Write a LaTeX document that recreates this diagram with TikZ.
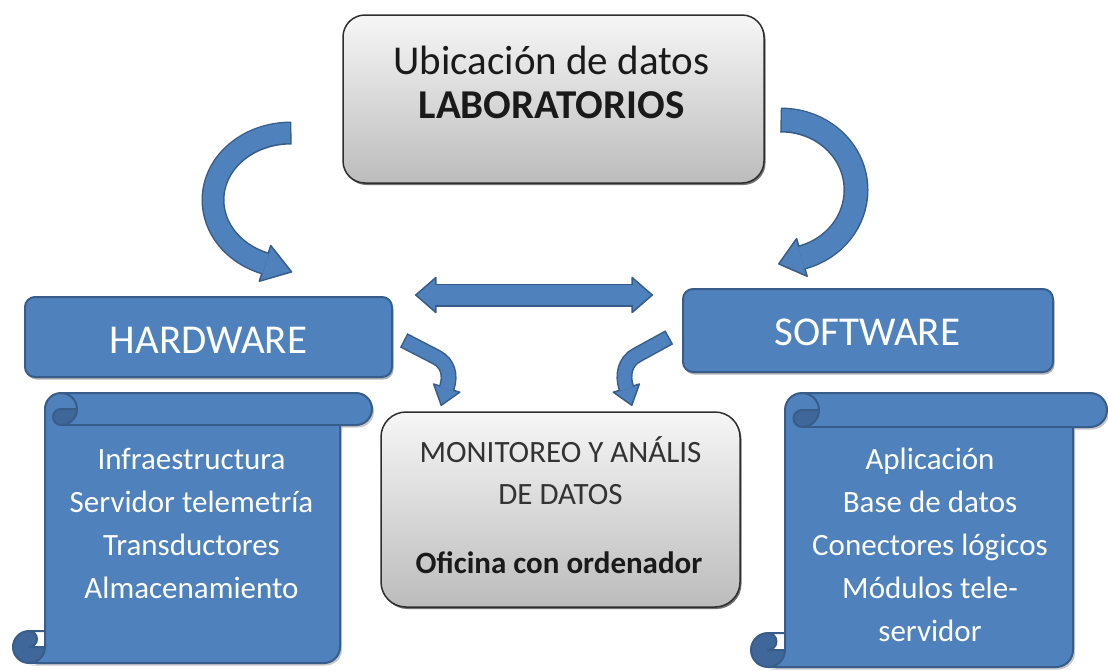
\documentclass[tikz,border=0pt]{standalone}
\usepackage{fontspec}
\setmainfont{Carlito}
\usetikzlibrary{arrows.meta,shadows}
\definecolor{bfill}{HTML}{4F81BD}
\definecolor{bline}{HTML}{385D8A}
\definecolor{bdark}{HTML}{3F6799}
\definecolor{gtop}{HTML}{F6F6F6}
\definecolor{gbot}{HTML}{BCBCBC}
\definecolor{gline}{HTML}{2E2E2E}
\definecolor{txt}{HTML}{1A1A1A}

\newcommand{\scrollpaper}[5]{%
  \pgfmathsetmacro\SL{#1}\pgfmathsetmacro\ST{#2}\pgfmathsetmacro\SR{#3}\pgfmathsetmacro\SB{#4}%
  \pgfmathsetmacro\SC{#5}\pgfmathsetmacro\SCh{#5/2}\pgfmathsetmacro\SCq{#5/4}%
  \pgfmathsetmacro\Xa{\SL+\SCh}\pgfmathsetmacro\Xb{\SL+\SC}%
  \pgfmathsetmacro\Xc{\SL+1.5*\SC}\pgfmathsetmacro\Xd{\SL+2*\SC}%
  \pgfmathsetmacro\Xf{\SR-\SC}\pgfmathsetmacro\Xg{\SR-\SCh}\pgfmathsetmacro\Xe{\Xf-\SCh}%
  \pgfmathsetmacro\Ya{\ST+\SCh}\pgfmathsetmacro\Yb{\ST+\SC}%
  \pgfmathsetmacro\Yc{\SB-\SC}\pgfmathsetmacro\Yd{\SB-\SCh}%
  \fill[black!22, shift={(2,2.5)}] (\Xa,\SB) arc[start angle=90,end angle=0,radius=\SCh] -- (\Xb,\Ya)
     arc[start angle=180,end angle=270,radius=\SCh] -- (\Xg,\ST)
     arc[start angle=270,end angle=450,radius=\SCh] -- (\Xf,\Yb) -- (\Xf,\Yd)
     arc[start angle=0,end angle=90,radius=\SCh] -- cycle;
  \fill[bfill] (\Xa,\SB) arc[start angle=90,end angle=0,radius=\SCh] -- (\Xb,\Ya)
     arc[start angle=180,end angle=270,radius=\SCh] -- (\Xg,\ST)
     arc[start angle=270,end angle=450,radius=\SCh] -- (\Xf,\Yb) -- (\Xf,\Yd)
     arc[start angle=0,end angle=90,radius=\SCh] -- cycle;
  \fill[bdark] (\Xd,\Ya) arc[start angle=0,end angle=90,radius=\SCh]
     arc[start angle=90,end angle=270,radius=\SCq] -- cycle;
  \fill[bdark] (\Xb,\Yd) arc[start angle=0,end angle=270,radius=\SCh]
     arc[start angle=270,end angle=450,radius=\SCq] -- cycle;
  \begin{scope}[draw=bline, line width=2pt, line join=round]
  \draw (\Xb,\Yc) -- (\Xb,\Ya) arc[start angle=180,end angle=270,radius=\SCh] -- (\Xg,\ST)
     arc[start angle=270,end angle=450,radius=\SCh] -- (\Xf,\Yb) -- (\Xf,\Yd)
     arc[start angle=0,end angle=90,radius=\SCh] -- (\Xa,\SB)
     arc[start angle=90,end angle=270,radius=\SCh] -- cycle;
  \draw (\Xc,\ST) arc[start angle=270,end angle=450,radius=\SCh]
     arc[start angle=90,end angle=270,radius=\SCq] -- (\Xd,\Ya);
  \draw (\Xf,\Yb) -- (\Xc,\Yb);
  \draw (\Xa,\Yc) arc[start angle=270,end angle=450,radius=\SCq] -- (\Xb,\Yd);
  \draw (\Xa,\SB) arc[start angle=90,end angle=0,radius=\SCh] -- (\Xb,\Yc);
  \end{scope}
}

\begin{document}
\begin{tikzpicture}[x=1pt,y=-1pt,
  bluebox/.style={draw=bline, line width=2pt, fill=bfill, rounded corners=10pt, inner sep=0pt,
     drop shadow={shadow xshift=1.5pt, shadow yshift=-2.5pt, fill=black!30, opacity=1}},
  graybox/.style={draw=gline, line width=1.5pt, top color=gtop, bottom color=gbot, rounded corners=22pt, inner sep=0pt,
     drop shadow={shadow xshift=1.5pt, shadow yshift=-2pt, fill=black!55, opacity=1}},
  headtxt/.style={text=txt, inner sep=0pt, anchor=base, font=\fontsize{41}{49}\selectfont},
  labtxt/.style={text=white, inner sep=0pt, anchor=base, font=\fontsize{41}{49}\selectfont},
  listtxt/.style={text=white, inner sep=0pt, anchor=base, font=\fontsize{31}{37}\selectfont},
  montxt/.style={text=txt, inner sep=0pt, anchor=base, font=\fontsize{31}{37}\selectfont},
]
\useasboundingbox (0,0) rectangle (1108,670);

% scrolls
\scrollpaper{13}{393}{372}{663}{32}
\scrollpaper{751}{393}{1107}{667}{34}

% boxes
\node[graybox, minimum width=421pt, minimum height=168pt] (topbox) at (553.5,99) {};
\node[bluebox, minimum width=367pt, minimum height=80pt] (hw) at (208.5,337) {};
\node[bluebox, minimum width=370pt, minimum height=83pt] (sw) at (868,330.5) {};
\node[graybox, rounded corners=25pt, minimum width=359pt, minimum height=195pt] (mon) at (560.5,509.5) {};

% big curved arrows
\coordinate (la0) at (290,133);
\coordinate (la1) at (292.3,272.1);
\draw[bfill, line width=20pt, shorten >=28pt,
  preaction={draw=bline, line width=23pt, shorten >=0pt, shorten <=-1.5pt,
    -{Triangle[length=30pt,width=40pt,line width=1.5pt,fill=bfill,round]}}]
  (la0) arc[start angle=270,end angle=110,x radius=77,y radius=67] -- (la1);

\coordinate (ra0) at (782,120);
\coordinate (ra1) at (778,264.1);
\draw[bfill, line width=22pt, shorten >=24pt,
  preaction={draw=bline, line width=25pt, shorten >=0pt, shorten <=-1.5pt,
    -{Triangle[length=26pt,width=42pt,line width=1.5pt,fill=bfill,round]}}]
  (ra0) arc[start angle=-90,end angle=73.5,x radius=74,y radius=70] -- (ra1);

% double arrow
\coordinate (da0) at (415,295);
\coordinate (da1) at (653,295);
\draw[bfill, line width=20pt, shorten >=20pt, shorten <=20pt,
  preaction={draw=bline, line width=23pt, shorten >=0pt, shorten <=0pt,
    {Triangle[length=22pt,width=38pt,line width=1.5pt,fill=bfill,round]}-{Triangle[length=22pt,width=38pt,line width=1.5pt,fill=bfill,round]}}]
  (da0) -- (da1);

% small bent arrows
\coordinate (sa0) at (405,341);
\coordinate (sa1) at (441,406);
\draw[bfill, line width=13pt, shorten >=18pt,
  preaction={draw=bline, line width=16pt, shorten >=0pt, shorten <=-1.5pt,
    -{Triangle[length=20pt,width=30pt,line width=1.5pt,fill=bfill,round]}}]
  (sa0) -- (436,357) .. controls (448.5,363.4) and (450.6,375.6) .. (447,387) -- (sa1);

\coordinate (sb0) at (668,338);
\coordinate (sb1) at (632,406);
\draw[bfill, line width=13pt, shorten >=18pt,
  preaction={draw=bline, line width=16pt, shorten >=0pt, shorten <=-1.5pt,
    -{Triangle[length=20pt,width=30pt,line width=1.5pt,fill=bfill,round]}}]
  (sb0) -- (637,355) .. controls (624.5,361.4) and (622.4,375.6) .. (626,387) -- (sb1);

% texts
\node[headtxt] (t1) at (551.5,74) {Ubicación de datos};
\node[headtxt, font=\fontsize{41}{49}\selectfont\bfseries] (t2) at (551.5,118) {LABORATORIOS};
\node[labtxt] (hwt) at (208.5,353) {HARDWARE};
\node[labtxt] (swt) at (867.5,345) {SOFTWARE};

\node[listtxt] (h1) at (191.5,469) {Infraestructura};
\node[listtxt] (h2) at (191.5,512) {Servidor telemetría};
\node[listtxt] (h3) at (191.5,555) {Transductores};
\node[listtxt] (h4) at (191.5,598) {Almacenamiento};

\node[listtxt] (s1) at (930,469) {Aplicación};
\node[listtxt] (s2) at (930,512) {Base de datos};
\node[listtxt] (s3) at (930,555) {Conectores lógicos};
\node[listtxt] (s4) at (930,598) {Módulos tele-};
\node[listtxt] (s5) at (930,641) {servidor};

\node[montxt, text=black!80] (m1) at (560.5,462) {MONITOREO Y ANÁLIS};
\node[montxt, text=black!80] (m2) at (560.5,504) {DE DATOS};
\node[montxt, font=\fontsize{31}{37}\selectfont\bfseries] (m3) at (559,573) {Oficina con ordenador};
\end{tikzpicture}
\end{document}
